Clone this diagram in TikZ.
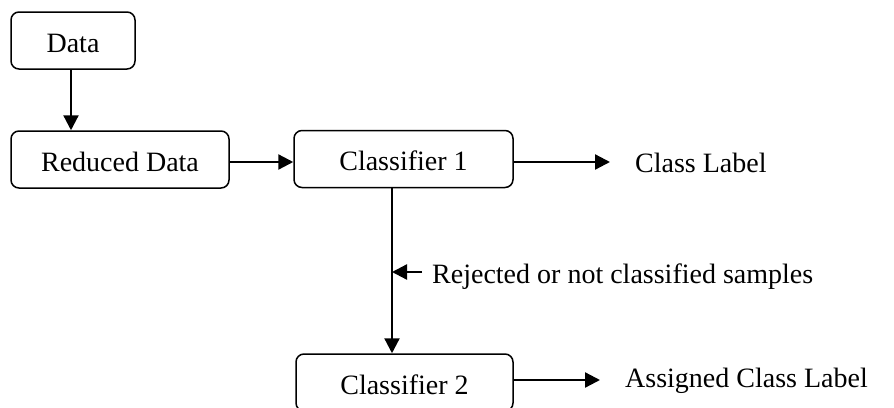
\documentclass[tikz,border=0pt]{standalone}
\usepackage{fontspec}
\setmainfont{Liberation Serif}
\usetikzlibrary{arrows.meta}
\begin{document}
\begin{tikzpicture}[x=1pt,y=-1pt,
  box/.style={draw, line width=1.5pt, rounded corners=8pt, inner sep=0pt,
    minimum height=57pt, text height=23pt, text depth=0pt,
    font=\fontsize{28}{30}\selectfont},
  lbl/.style={anchor=base west, inner sep=0pt, font=\fontsize{28}{30}\selectfont},
  conn/.style={line width=2.3pt, -{Triangle[length=15pt,width=15pt]}}
]
\useasboundingbox (0,0) rectangle (894,407);
\node[box, minimum width=124pt] (data) at (73,40.5) {Data};
\node[box, minimum width=218pt] (rd) at (120,159.5) {Reduced Data};
\node[box, minimum width=219pt] (c1) at (403.5,159) {Classifier 1};
\node[box, minimum width=217pt] (c2) at (404.5,382.5) {Classifier 2};
\node[lbl] (cl) at (635,172) {Class Label};
\node[lbl] (rej) at (432,283) {Rejected or not classified samples};
\node[lbl] (acl) at (625,387) {Assigned Class Label};
\coordinate (c1out) at (610,162);
\coordinate (c2out) at (600,380);
\coordinate (rejtail) at (422,272);
\coordinate (rejtip) at (392,272);
\draw[conn] (data.south -| 71,0) -- (rd.north -| 71,0);
\draw[conn] (rd.east |- c1out) -- (c1.west |- c1out);
\draw[conn] (c1.east |- c1out) -- (c1out);
\draw[conn] (c1.south -| 392,0) -- (c2.north -| 392,0);
\draw[conn] (rejtail) -- (rejtip);
\draw[conn] (c2.east |- c2out) -- (c2out);
\end{tikzpicture}
\end{document}
